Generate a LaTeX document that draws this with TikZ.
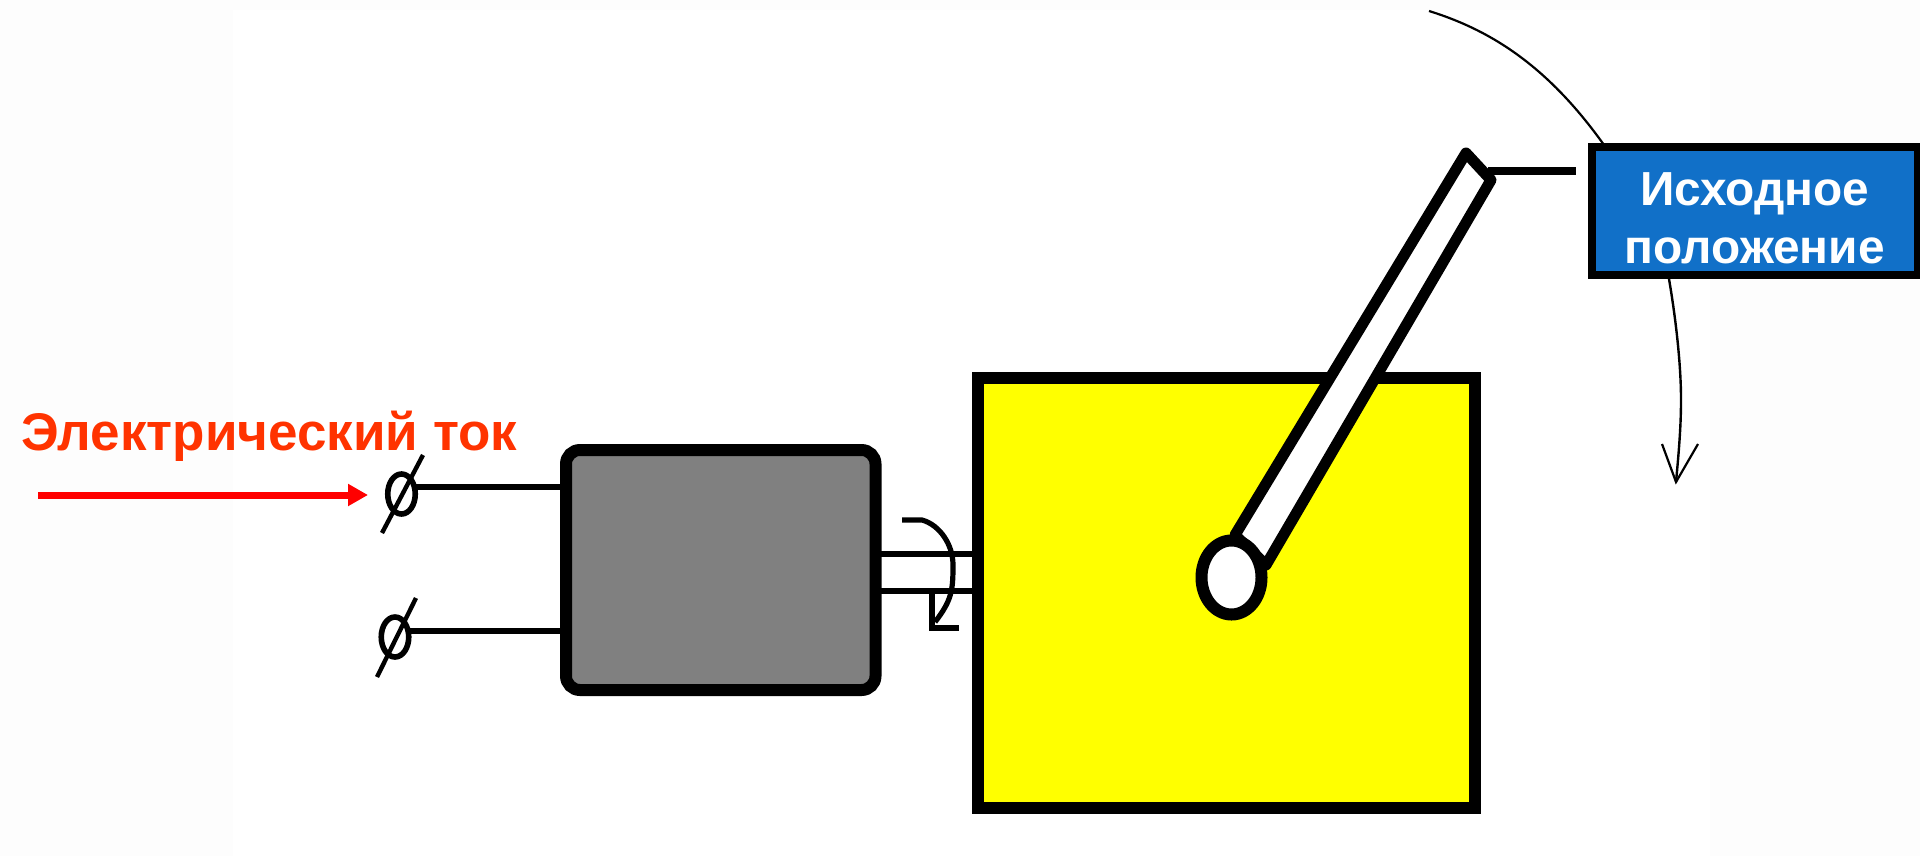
\documentclass[tikz,border=0pt]{standalone}
\usepackage{fontspec}
\setmainfont{Liberation Sans}
\usetikzlibrary{shapes.geometric,arrows.meta}
\definecolor{bluebox}{HTML}{1170C8}
\definecolor{redtext}{HTML}{FF3300}
\definecolor{panelbg}{HTML}{FDFDFD}
\definecolor{boxyellow}{HTML}{FFFF00}
\definecolor{boxgray}{HTML}{808080}
\definecolor{arrowred}{HTML}{FF0000}
\tikzset{
  px/.style={x=0.5pt,y=-0.5pt},
  heavy/.style={draw=black,line width=6pt,line join=miter,outer sep=0pt},
  wire/.style={draw=black,line width=3.2pt},
  thin curve/.style={draw=black,line width=1.1pt},
  terminal/.style={ellipse,draw=black,line width=2.8pt,inner sep=0pt,minimum width=13.75pt,minimum height=20pt},
  slash/.style={draw=black,line width=2.2pt},
  label text/.style={font=\bfseries,inner sep=0pt},
}
\begin{document}
\begin{tikzpicture}[px]
\useasboundingbox (0,0) rectangle (1920,856);
\fill[panelbg] (0,0) rectangle (1920,856);
\fill[white] (233,10) rectangle (1710,856);

% thin swing arc, behind the label box
\coordinate (arcstart) at (1429,11);
\coordinate (arcend) at (1604,145);
\draw[thin curve] (arcstart) .. controls (1490,30) and (1547,65) .. (arcend);

% yellow box
\node[heavy,fill=boxyellow,inner sep=0pt,minimum width=248.5pt,minimum height=215.25pt,anchor=north west] (ybox) at (977.5,377.5) {};

% gray box
\node[heavy,fill=boxgray,rounded corners=7pt,inner sep=0pt,minimum width=154.75pt,minimum height=120pt,anchor=north west] (gbox) at (566,450) {};

% terminals
\node[terminal] (t1) at (401.5,494) {};
\node[terminal] (t2) at (395,637) {};
\coordinate (s1a) at (423,455); \coordinate (s1b) at (382,533);
\coordinate (s2a) at (416,598); \coordinate (s2b) at (377,677);
\draw[slash] (s1a) -- (s1b);
\draw[slash] (s2a) -- (s2b);
\coordinate (w1) at (415,487); \coordinate (w1e) at (563,487);
\coordinate (w2) at (410,631); \coordinate (w2e) at (563,631);
\draw[wire,line width=3.4pt] (w1) -- (w1e);
\draw[wire,line width=3pt] (w2) -- (w2e);

% red arrow
\coordinate (ra) at (38,495); \coordinate (rb) at (368,495);
\draw[arrowred,line width=3.5pt,-{Triangle[length=10pt,width=10.5pt]}] (ra) -- (rb);

% shaft
\coordinate (sh1a) at (878,554); \coordinate (sh1b) at (975,554);
\coordinate (sh2a) at (878,591); \coordinate (sh2b) at (975,591);
\draw[wire] (sh1a) -- (sh1b);
\draw[wire] (sh2a) -- (sh2b);

% rotation arrow
\coordinate (rota) at (902,520);
\coordinate (rotb) at (935,622);
\draw[draw=black,line width=2.6pt] (rota) -- (922,520) .. controls (940,525) and (953,545) .. (953,565) .. controls (953,590) and (952,600) .. (rotb);
\coordinate (roth1) at (932,593); \coordinate (rothc) at (932,628); \coordinate (roth2) at (959,628);
\draw[draw=black,line width=3.2pt,line join=miter] (roth1) -- (rothc) -- (roth2);

% lever
\coordinate (la) at (1466,153);
\coordinate (lb) at (1491,180);
\coordinate (lc) at (1266,565);
\coordinate (ld) at (1235,535);
\draw[draw=black,fill=white,line width=5.5pt,line join=round] (la) -- (lb) -- (lc) -- (ld) -- cycle;

% pivot
\node[ellipse,draw=black,fill=white,line width=6pt,inner sep=0pt,minimum width=30pt,minimum height=37pt] (pivot) at (1231.5,577.5) {};

% stop line and label box
\coordinate (stopa) at (1488,171); \coordinate (stopb) at (1576,171);
\draw[draw=black,line width=4pt] (stopa) -- (stopb);
\node[draw=black,fill=bluebox,line width=4pt,outer sep=0pt,inner sep=0pt,minimum width=163.25pt,minimum height=64pt,anchor=north west,
      text=white,font=\bfseries\fontsize{23.9}{29}\selectfont,align=center,text width=155pt] (blue) at (1591.5,147) {\rule{0pt}{24pt}Исходное\\положение};

% swing arc continuation
\coordinate (downstart) at (1669,279);
\coordinate (downend) at (1676,482);
\draw[thin curve,line width=1.2pt] (downstart) .. controls (1676,320) and (1681,365) .. (1681,400) .. controls (1681,430) and (1678,460) .. (downend);
\coordinate (dh1) at (1662,444); \coordinate (dh2) at (1698,444);
\draw[thin curve] (dh1) -- (downend) -- (dh2);

% label
\node[label text,text=redtext,font=\bfseries\fontsize{26.5}{30}\selectfont,anchor=base west] (elec) at (21,450) {Электрический ток};
\end{tikzpicture}
\end{document}
